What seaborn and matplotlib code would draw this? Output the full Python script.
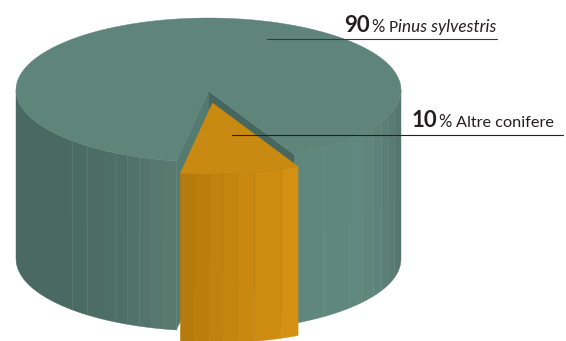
import numpy as np
import seaborn as sns
import matplotlib.pyplot as plt
from matplotlib.patches import Polygon

# data
species = ["Pinus sylvestris", "Altre conifere"]
shares = [90, 10]

# pie geometry, in pixels of the 566x341 picture
CX, CY, RX, RY, DEPTH = 208.5, 90.0, 192.5, 72.0, 169.0
START = 260.4                 # where the small slice begins (deg, 270 = front of the pie)
OFF_X, OFF_Y = 4.0, 12.0      # how far the small slice is pulled out

sns.set_theme(style="white")
plt.rcParams["font.family"] = ["Lato", "DejaVu Sans"]

fig = plt.figure(figsize=(5.66, 3.41), dpi=100)
ax = fig.add_axes([0, 0, 1, 1])
ax.set_xlim(0, 566)
ax.set_ylim(341, 0)
ax.axis("off")

slice_deg = shares[1] / sum(shares) * 360
END = START + slice_deg


def rim(deg, dx=0.0, dy=0.0):
    t = np.radians(deg)
    return np.column_stack([CX + dx + RX * np.cos(t), CY + dy - RY * np.sin(t)])


def wall(a0, a1, color, dx=0.0, dy=0.0, z=2):
    top = rim(np.linspace(a0, a1, 12), dx, dy)
    bot = top[::-1] + [0, DEPTH]
    ax.add_patch(Polygon(np.vstack([top, bot]), fc=color, ec=color, lw=0.3, zorder=z))


# teal side, left of the notch then right of it
left_edges = [180, 225, 231, 236.4, 241, 245, 249, 252.6, 256.3, START]
left_cols = sns.blend_palette(["#496962", "#4e6f67", "#59796f"], len(left_edges) - 1)
for a0, a1, c in zip(left_edges[:-1], left_edges[1:], left_cols):
    wall(a0, a1, c)
for a in left_edges[1:-1]:
    p = rim(a)[0]
    ax.plot([p[0], p[0]], [p[1], p[1] + DEPTH * 0.45], color="#557770", lw=0.3, zorder=3)

right_edges = [END, 307, 317, 323, 329, 334, 339, 345, 360]
right_cols = sns.blend_palette(["#5f877d", "#61887e", "#5c8077", "#56776d"], len(right_edges) - 1)
for a0, a1, c in zip(right_edges[:-1], right_edges[1:], right_cols):
    wall(a0, a1, c)
for a in right_edges[1:-1]:
    p = rim(a)[0]
    ax.plot([p[0], p[0]], [p[1], p[1] + DEPTH * 0.5], color="#587d73", lw=0.3, zorder=3)

# inner faces of the notch
apex = np.array([CX, CY + 1])
for a, col in [(START, "#557a70"), (END, "#466660")]:
    p = rim(a)[0]
    face = np.vstack([apex, p, p + [0, DEPTH], apex + [0, DEPTH]])
    ax.add_patch(Polygon(face, fc=col, ec=col, lw=0.3, zorder=4))

# teal top
arc = rim(np.linspace(END, START + 360, 300))
ax.add_patch(Polygon(np.vstack([apex, arc]), fc="#5f8479", ec="#5f8479", lw=0.3, zorder=5))

# small orange slice, pulled out
or_edges = [START, 265, 269, 273.4, 277.6, 282.7, 291, END]
or_cols = sns.blend_palette(["#b67b0d", "#c4850f", "#d39012"], len(or_edges) - 1)
for a0, a1, c in zip(or_edges[:-1], or_edges[1:], or_cols):
    wall(a0, a1, c, OFF_X, OFF_Y, z=6)
for a in or_edges[1:-1]:
    p = rim(a, OFF_X, OFF_Y)[0]
    ax.plot([p[0], p[0]], [p[1], p[1] + DEPTH * 0.95], color="#b67c10", lw=0.3, zorder=7)
top = rim(np.linspace(START, END, 40), OFF_X, OFF_Y)
ax.add_patch(Polygon(np.vstack([apex + [OFF_X, OFF_Y], top]), fc="#c98a12", ec="#c98a12",
                     lw=0.3, zorder=8))

# leader lines
ax.plot([267, 497], [38.5, 38.5], color="#3a3a3a", lw=0.8, zorder=9)
ax.plot([232, 563], [135, 135], color="#222222", lw=0.8, zorder=9)

# labels
ink = "#231f20"
base = dict(color=ink, va="baseline", zorder=10)
ax.text(344, 32, str(shares[0]), fontsize=16, fontweight="bold", **base)
ax.text(371, 32, "%", fontsize=12, **base)
ax.text(389, 32, species[0][0], fontsize=11, **base)
ax.text(398.5, 32, species[0][1:], fontsize=12.3, style="italic", **base)
ax.text(412, 127, str(shares[1]), fontsize=16, fontweight="bold", **base)
ax.text(438, 127, "%", fontsize=12, **base)
ax.text(456, 127, species[1], fontsize=11.7, **base)

fig.savefig("out.png", dpi=100)
